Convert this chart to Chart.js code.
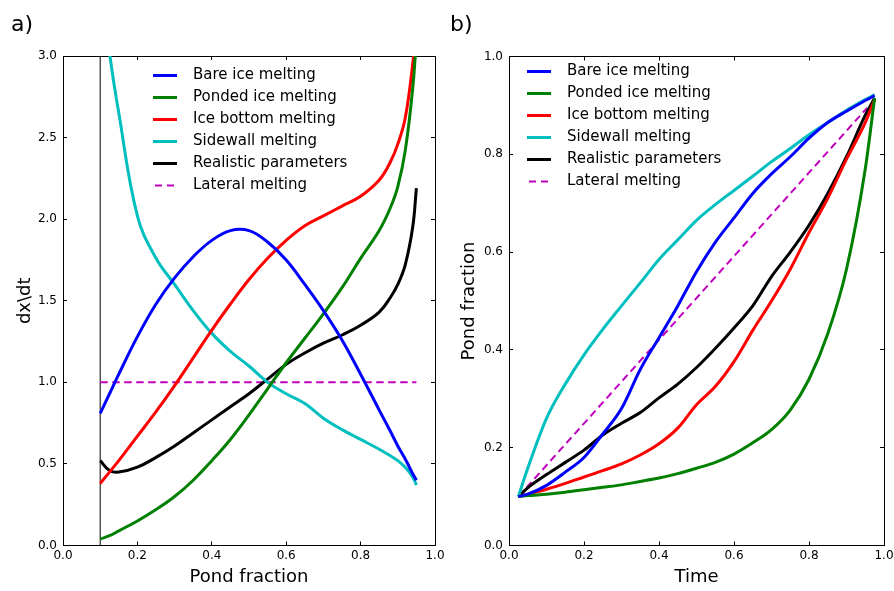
<!DOCTYPE html>
<html>
<head>
<meta charset="utf-8">
<script src="https://cdn.jsdelivr.net/npm/chart.js@4.4.0/dist/chart.umd.min.js"></script>
<style>
  body { margin: 0; background: #fff; width: 894px; height: 591px; position: relative; overflow: hidden; font-family: "DejaVu Sans", sans-serif; }
  .panel { position: absolute; top: 0; width: 447px; height: 591px; }
  .tag { position: absolute; top: 13px; font-size: 22px; line-height: 22px; color: #000; }
</style>
</head>
<body>
<div class="panel" style="left:0"><canvas id="chartA" width="447" height="591"></canvas></div>
<div class="panel" style="left:447px"><canvas id="chartB" width="447" height="591"></canvas></div>
<div class="tag" style="left:11px">a)</div>
<div class="tag" style="left:450px">b)</div>
<script>
// noms des séries (même ordre dans les deux panneaux)
const seriesNames = ['Bare ice melting', 'Ponded ice melting', 'Ice bottom melting', 'Sidewall melting', 'Realistic parameters', 'Lateral melting'];

// a) dx/dt en fonction de la fraction de mares
const fracA     = [0.10, 0.125, 0.15, 0.20, 0.25, 0.30, 0.35, 0.40, 0.45, 0.50, 0.55, 0.60, 0.65, 0.70, 0.75, 0.80, 0.85, 0.88, 0.90, 0.92, 0.94, 0.95];
const bareA     = [0.81, 0.93, 1.05, 1.28, 1.48, 1.64, 1.77, 1.87, 1.93, 1.93, 1.86, 1.75, 1.60, 1.44, 1.26, 1.05, 0.83, 0.70, 0.61, 0.53, 0.44, 0.40];
const pondedA   = [0.04, 0.06, 0.09, 0.15, 0.22, 0.30, 0.40, 0.52, 0.65, 0.80, 0.96, 1.12, 1.27, 1.42, 1.58, 1.76, 1.93, 2.07, 2.20, 2.42, 2.80, 3.10];
const bottomA   = [0.38, 0.45, 0.52, 0.67, 0.82, 0.98, 1.15, 1.32, 1.48, 1.63, 1.76, 1.87, 1.96, 2.02, 2.08, 2.14, 2.24, 2.35, 2.46, 2.62, 2.95, 3.20];
const sidewallA = [3.50, 3.02, 2.65, 2.02, 1.76, 1.60, 1.44, 1.30, 1.19, 1.10, 1.00, 0.93, 0.87, 0.78, 0.71, 0.65, 0.59, 0.55, 0.52, 0.48, 0.42, 0.37];
const realA     = [0.52, 0.46, 0.45, 0.48, 0.54, 0.61, 0.69, 0.77, 0.85, 0.93, 1.02, 1.11, 1.18, 1.24, 1.29, 1.35, 1.43, 1.52, 1.60, 1.72, 1.95, 2.19];
const lateralFracA = [0.10, 0.95];
const lateralA     = [1.0, 1.0];
const markerFracA  = [0.10, 0.10];   // trait vertical à x = 0.1
const markerA      = [0.0, 3.0];

// b) fraction de mares en fonction du temps
const timeB     = [0.025, 0.05, 0.10, 0.15, 0.20, 0.25, 0.30, 0.35, 0.40, 0.45, 0.50, 0.55, 0.60, 0.65, 0.70, 0.75, 0.80, 0.85, 0.90, 0.95, 0.975];
const bareB     = [0.100, 0.105, 0.123, 0.150, 0.180, 0.228, 0.280, 0.360, 0.425, 0.490, 0.560, 0.620, 0.670, 0.720, 0.760, 0.795, 0.833, 0.865, 0.888, 0.910, 0.920];
const pondedB   = [0.100, 0.102, 0.105, 0.109, 0.114, 0.119, 0.124, 0.131, 0.138, 0.147, 0.158, 0.170, 0.187, 0.210, 0.237, 0.277, 0.340, 0.433, 0.565, 0.770, 0.915];
const bottomB   = [0.100, 0.105, 0.115, 0.127, 0.140, 0.153, 0.167, 0.185, 0.208, 0.240, 0.288, 0.325, 0.376, 0.440, 0.500, 0.565, 0.640, 0.710, 0.790, 0.865, 0.912];
const sidewallB = [0.100, 0.158, 0.260, 0.330, 0.390, 0.442, 0.490, 0.537, 0.585, 0.625, 0.665, 0.697, 0.726, 0.755, 0.785, 0.812, 0.840, 0.865, 0.890, 0.912, 0.922];
const realB     = [0.100, 0.118, 0.145, 0.170, 0.195, 0.226, 0.250, 0.272, 0.302, 0.330, 0.364, 0.403, 0.445, 0.490, 0.550, 0.600, 0.655, 0.720, 0.795, 0.880, 0.915];
const lateralTimeB = [0.025, 0.955];
const lateralB     = [0.100, 0.895];

// ticks
const xTicks  = [0.0, 0.2, 0.4, 0.6, 0.8, 1.0];
const yTicksA = [0.0, 0.5, 1.0, 1.5, 2.0, 2.5, 3.0];
const yTicksB = [0.0, 0.2, 0.4, 0.6, 0.8, 1.0];

// couleurs matplotlib "classic"
const colors = ['#0000ff', '#008000', '#ff0000', '#00bfbf', '#000000', '#bf00bf'];

function points(xs, ys) {
    return xs.map((x, i) => ({ x: x, y: ys[i] }));
}

function makeDatasets(xs, lists, latX, latY, smooth) {
    const sets = lists.map((ys, i) => ({
        label: seriesNames[i],
        data: points(xs, ys),
        borderColor: colors[i],
        borderWidth: 3,
        tension: smooth ? 0.4 : 0,
        cubicInterpolationMode: smooth ? 'default' : 'monotone'
    }));
    sets.push({
        label: seriesNames[5],
        data: points(latX, latY),
        borderColor: colors[5],
        borderWidth: 2,
        borderDash: [7.5, 4.5]
    });
    return sets;
}

// légende dessinée à l'intérieur de la zone du graphique
const insideLegend = {
    id: 'insideLegend',
    afterDatasetsDraw(chart, args, opts) {
        const ctx = chart.ctx;
        ctx.save();
        ctx.font = '15px "DejaVu Sans"';
        ctx.textBaseline = 'middle';
        ctx.textAlign = 'left';
        chart.data.datasets.forEach((ds, i) => {
            if (!ds.label) return;
            const y = opts.y + i * 22;
            ctx.strokeStyle = ds.borderColor;
            ctx.lineWidth = ds.borderWidth;
            ctx.lineCap = 'butt';
            if (ds.borderDash) {
                ctx.setLineDash([7, 5]);
                ctx.beginPath(); ctx.moveTo(opts.x + 2, y); ctx.lineTo(opts.x + 22, y); ctx.stroke();
            } else {
                ctx.setLineDash([]);
                ctx.beginPath(); ctx.moveTo(opts.x, y); ctx.lineTo(opts.x + 24, y); ctx.stroke();
            }
            ctx.fillStyle = '#000';
            ctx.fillText(ds.label, opts.x + 40, y);
        });
        ctx.restore();
    }
};

function makeOptions(cfg) {
    const tickGrid = { drawOnChartArea: false, tickLength: -4, color: '#000', lineWidth: 1 };
    const border = { display: true, color: '#000', width: 1 };
    const fixedTicks = (values) => (scale) => { scale.ticks = values.map(v => ({ value: v })); };
    const fmt = (v) => Number(v).toFixed(1);
    return {
        responsive: false,
        animation: false,
        layout: { padding: 0 },
        elements: { point: { radius: 0 }, line: { fill: false } },
        plugins: {
            legend: { display: false },
            tooltip: { enabled: false },
            insideLegend: { x: cfg.legendX, y: cfg.legendY }
        },
        scales: {
            x: {
                type: 'linear', position: 'bottom', min: 0, max: 1,
                afterBuildTicks: fixedTicks(xTicks),
                ticks: { callback: fmt, color: '#000', font: { family: 'DejaVu Sans', size: 12 }, padding: 7, maxRotation: 0 },
                grid: tickGrid, border: border,
                title: { display: true, text: cfg.xTitle, color: '#000', font: { family: 'DejaVu Sans', size: 18 }, padding: { top: 0, bottom: 3 } },
                afterFit: (s) => { s.height = 45.5; s.paddingLeft = 0; s.paddingRight = 0; }
            },
            x2: {
                type: 'linear', position: 'top', min: 0, max: 1,
                afterBuildTicks: fixedTicks(xTicks),
                ticks: { display: false },
                grid: tickGrid, border: border,
                afterFit: (s) => { s.height = cfg.top; s.paddingLeft = 0; s.paddingRight = 0; }
            },
            y: {
                type: 'linear', position: 'left', min: 0, max: cfg.yMax,
                afterBuildTicks: fixedTicks(cfg.yTicks),
                ticks: { callback: fmt, color: '#000', font: { family: 'DejaVu Sans', size: 12 }, padding: 10 },
                grid: tickGrid, border: border,
                title: { display: true, text: cfg.yTitle, color: '#000', font: { family: 'DejaVu Sans', size: 18 }, padding: { top: cfg.yTitlePad, bottom: 0 } },
                afterFit: (s) => { s.width = cfg.left; s.paddingTop = 0; s.paddingBottom = 0; }
            },
            y2: {
                type: 'linear', position: 'right', min: 0, max: cfg.yMax,
                afterBuildTicks: fixedTicks(cfg.yTicks),
                ticks: { display: false },
                grid: tickGrid, border: border,
                afterFit: (s) => { s.width = cfg.right; s.paddingTop = 0; s.paddingBottom = 0; }
            }
        }
    };
}

// panneau a)
const datasetsA = makeDatasets(fracA, [bareA, pondedA, bottomA, sidewallA, realA], lateralFracA, lateralA, true);
datasetsA.push({ data: points(markerFracA, markerA), borderColor: '#000', borderWidth: 1 });

new Chart(document.getElementById('chartA').getContext('2d'), {
    type: 'line',
    data: { datasets: datasetsA },
    options: makeOptions({ xTitle: 'Pond fraction', yTitle: 'dx\\dt', yMax: 3, yTicks: yTicksA,
        left: 63, right: 12, top: 56, yTitlePad: 15, legendX: 153, legendY: 75.5 }),
    plugins: [insideLegend]
});

// panneau b)
const datasetsB = makeDatasets(timeB, [bareB, pondedB, bottomB, sidewallB, realB], lateralTimeB, lateralB, false);

new Chart(document.getElementById('chartB').getContext('2d'), {
    type: 'line',
    data: { datasets: datasetsB },
    options: makeOptions({ xTitle: 'Time', yTitle: 'Pond fraction', yMax: 1, yTicks: yTicksB,
        left: 62, right: 10, top: 56.5, yTitlePad: 12, legendX: 80, legendY: 71.5 }),
    plugins: [insideLegend]
});
</script>
</body>
</html>
